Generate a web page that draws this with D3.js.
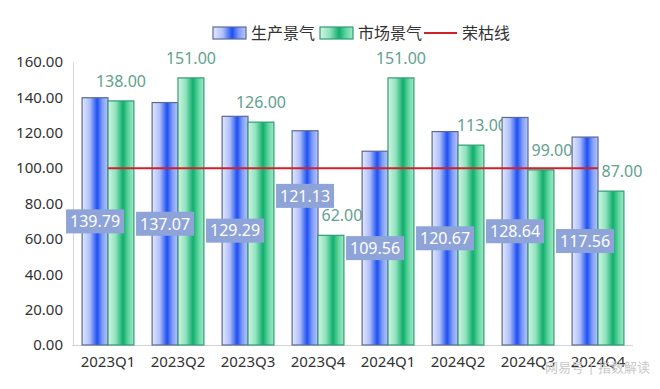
<!DOCTYPE html>
<html>
<head>
<meta charset="utf-8">
<script src="https://cdn.jsdelivr.net/npm/d3@7/dist/d3.min.js"></script>
<style>
	body { margin: 0; background: #fff; }
	text { font-family: "Noto Sans", "Noto Sans CJK SC", sans-serif; }
</style>
</head>
<body>
<script>
// Chart data
const quarters = ['2023Q1', '2023Q2', '2023Q3', '2023Q4', '2024Q1', '2024Q2', '2024Q3', '2024Q4'];
const production = [139.79, 137.07, 129.29, 121.13, 109.56, 120.67, 128.64, 117.56];
const market = [138.00, 151.00, 126.00, 62.00, 151.00, 113.00, 99.00, 87.00];
const threshold = 100;
const yTicks = [0, 20, 40, 60, 80, 100, 120, 140, 160];
const seriesNames = ['生产景气', '市场景气', '荣枯线'];

const W = 660, H = 389;
const margin = { top: 62, right: 27, bottom: 44, left: 73 };
const width = W - margin.left - margin.right;
const height = H - margin.top - margin.bottom;

const svg = d3.select('body').append('svg')
	.attr('width', W)
	.attr('height', H);

// Gradients for the bars
const defs = svg.append('defs');
function addGradient(id, stops) {
	const g = defs.append('linearGradient').attr('id', id)
		.attr('x1', '0%').attr('x2', '100%').attr('y1', '0%').attr('y2', '0%');
	stops.forEach(s => g.append('stop').attr('offset', s[0]).attr('stop-color', s[1]));
}
addGradient('gBlue', [['0%', '#e2e8fc'], ['30%', '#aebffa'], ['58%', '#1d4ff2'], ['78%', '#7f9cf6'], ['100%', '#b9c8fa']]);
addGradient('gGreen', [['0%', '#d2f4e4'], ['30%', '#8fe2bd'], ['58%', '#0fae6c'], ['78%', '#5fd49f'], ['100%', '#a5e9c9']]);

const g = svg.append('g').attr('transform', `translate(${margin.left},${margin.top})`);

// Scales
const x0 = d3.scaleBand().domain(quarters).range([0, width]).paddingInner(0.26).paddingOuter(0.13);
const x1 = d3.scaleBand().domain([0, 1]).range([0, x0.bandwidth()]);
const y = d3.scaleLinear().domain([0, 160]).range([height, 0]);

// Axes
const yAxis = g.append('g')
	.call(d3.axisLeft(y).tickValues(yTicks).tickFormat(d3.format('.2f')).tickSize(0).tickPadding(10));
yAxis.select('.domain').attr('stroke', '#d4d4d4');
yAxis.selectAll('text').attr('font-size', 15).attr('fill', '#333');

const xAxis = g.append('g')
	.attr('transform', `translate(0,${height})`)
	.call(d3.axisBottom(x0).tickSize(0).tickPadding(11));
xAxis.select('.domain').attr('stroke', '#d4d4d4').attr('d', `M-1,0.5H${width}`);
xAxis.selectAll('text').attr('font-size', 15).attr('fill', '#333');

// Bars
const groups = g.selectAll('.grp')
	.data(quarters)
	.enter().append('g')
	.attr('class', 'grp')
	.attr('transform', d => `translate(${x0(d)},0)`);

groups.append('rect')
	.attr('x', x1(0))
	.attr('width', x1.bandwidth())
	.attr('y', (d, i) => y(production[i]))
	.attr('height', (d, i) => height - y(production[i]))
	.attr('fill', 'url(#gBlue)')
	.attr('stroke', '#5a6a96')
	.attr('stroke-width', 1.2);

groups.append('rect')
	.attr('x', x1(1))
	.attr('width', x1.bandwidth())
	.attr('y', (d, i) => y(market[i]))
	.attr('height', (d, i) => height - y(market[i]))
	.attr('fill', 'url(#gGreen)')
	.attr('stroke', '#2f9c74')
	.attr('stroke-width', 1.2);

// Threshold line (category centre to centre)
g.append('line')
	.attr('x1', x0(quarters[0]) + x0.bandwidth() / 2)
	.attr('x2', x0(quarters[quarters.length - 1]) + x0.bandwidth() / 2)
	.attr('y1', y(threshold))
	.attr('y2', y(threshold))
	.attr('stroke', '#d0202c')
	.attr('stroke-width', 2);

// Market labels above bars; slide right when the blue bar would clip them
groups.append('text')
	.attr('x', (d, i) => {
		const labelBottom = y(market[i]) - 8;
		const clash = y(production[i]) < labelBottom;
		return x1(1) + x1.bandwidth() / 2 + (clash ? 11 : 0);
	})
	.attr('y', (d, i) => y(market[i]) - 14)
	.attr('text-anchor', 'middle')
	.attr('font-size', 16)
	.attr('fill', '#62a18e')
	.text((d, i) => market[i].toFixed(2));

// Production labels in boxes at bar middle
const boxLabels = groups.append('g')
	.attr('transform', (d, i) => {
		let cy = y(production[i] / 2);
		if (quarters[i] === '2023Q4') cy -= 42; // moved up to clear the 62.00 label
		return `translate(${x1(0) + x1.bandwidth() / 2},${cy})`;
	});
boxLabels.append('rect')
	.attr('x', -29).attr('y', -12)
	.attr('width', 58).attr('height', 24)
	.attr('fill', '#8ea3d8');
boxLabels.append('text')
	.attr('text-anchor', 'middle')
	.attr('dy', '0.36em')
	.attr('font-size', 16)
	.attr('fill', '#fff')
	.text((d, i) => production[i].toFixed(2));

// Legend
const legend = svg.append('g').attr('transform', 'translate(213,27)');
const legendItems = [
	{ name: seriesNames[0], x: 0, type: 'rect', fill: 'url(#gBlue)', stroke: '#5a6a96' },
	{ name: seriesNames[1], x: 107, type: 'rect', fill: 'url(#gGreen)', stroke: '#2f9c74' },
	{ name: seriesNames[2], x: 211, type: 'line', stroke: '#d0202c' }
];
legendItems.forEach(it => {
	const li = legend.append('g').attr('transform', `translate(${it.x},0)`);
	if (it.type === 'rect') {
		li.append('rect').attr('x', 0).attr('y', 0).attr('width', 33).attr('height', 12)
			.attr('fill', it.fill).attr('stroke', it.stroke).attr('stroke-width', 1.2);
	} else {
		li.append('line').attr('x1', 0).attr('x2', 33).attr('y1', 6).attr('y2', 6)
			.attr('stroke', it.stroke).attr('stroke-width', 2);
	}
	li.append('text').attr('x', 38).attr('y', 6).attr('dy', '0.35em')
		.attr('font-size', 16).attr('fill', '#333').text(it.name);
});

// Watermark
svg.append('text')
	.attr('x', 650).attr('y', 372)
	.attr('text-anchor', 'end')
	.attr('font-size', 13)
	.attr('fill', '#c8c8c8')
	.text('网易号 | 指数解读');
</script>
</body>
</html>
